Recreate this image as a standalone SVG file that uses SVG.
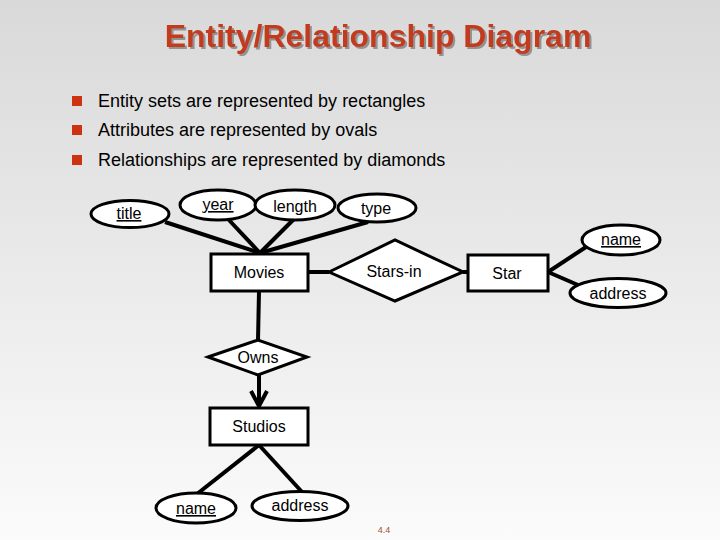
<svg xmlns="http://www.w3.org/2000/svg" width="720" height="540" viewBox="0 0 720 540">
<defs>
<linearGradient id="bg" x1="0" y1="0" x2="0" y2="1">
<stop offset="0" stop-color="#d9d9d9"/>
<stop offset="1" stop-color="#fbfbfb"/>
</linearGradient>
<filter id="shadow" x="-5%" y="-20%" width="110%" height="150%">
<feDropShadow dx="2" dy="2" stdDeviation="0.6" flood-color="#8a8a8a" flood-opacity="0.9"/>
</filter>
</defs>
<style>
.t{font-family:"Liberation Sans",Arial,sans-serif;font-size:16px;fill:#000;text-anchor:middle}
.b{font-family:"Liberation Sans",Arial,sans-serif;font-size:18px;fill:#000}
.k{text-decoration:underline}
.sh{fill:#fff;stroke:#000;stroke-width:3}
.c{stroke:#000;stroke-width:4;fill:none}
.bul{fill:#cc3311}
</style>
<rect width="720" height="540" fill="url(#bg)"/>
<g id="heading">
<text x="378" y="47" text-anchor="middle" font-family="Liberation Sans,Arial,sans-serif" font-weight="bold" font-size="32" fill="#c23a1c" filter="url(#shadow)">Entity/Relationship Diagram</text>
</g>
<g id="bullets">
<rect class="bul" x="72" y="96" width="10" height="10"/>
<text class="b" x="98" y="107">Entity sets are represented by rectangles</text>
<rect class="bul" x="72" y="125" width="10" height="10"/>
<text class="b" x="98" y="136">Attributes are represented by ovals</text>
<rect class="bul" x="72" y="155" width="10" height="10"/>
<text class="b" x="98" y="166">Relationships are represented by diamonds</text>
</g>
<g id="connectors">
<line class="c" x1="165" y1="222" x2="260" y2="253"/>
<line class="c" x1="228" y1="219" x2="260" y2="253"/>
<line class="c" x1="294" y1="219" x2="260" y2="253"/>
<line class="c" x1="368" y1="222" x2="260" y2="253"/>
<line class="c" x1="308" y1="272" x2="329" y2="272"/>
<line class="c" x1="463" y1="272" x2="468" y2="272"/>
<line class="c" x1="548" y1="272" x2="586" y2="247"/>
<line class="c" x1="548" y1="272" x2="578" y2="285"/>
<line class="c" x1="259" y1="291" x2="258" y2="340"/>
<line class="c" x1="259" y1="375" x2="259" y2="406"/>
<path class="c" d="M251,391 L259,406 L267,391"/>
<line class="c" x1="259" y1="445" x2="197" y2="494"/>
<line class="c" x1="259" y1="445" x2="302" y2="492"/>
</g>
<g id="title"><ellipse class="sh" cx="130" cy="214" rx="39" ry="13.5"/><text class="t k" x="129" y="219">title</text></g>
<g id="year"><ellipse class="sh" cx="218" cy="205" rx="38" ry="15"/><text class="t k" x="218" y="210">year</text></g>
<g id="length"><ellipse class="sh" cx="295" cy="205" rx="40" ry="15"/><text class="t" x="295" y="212">length</text></g>
<g id="type"><ellipse class="sh" cx="377" cy="208" rx="39" ry="14"/><text class="t" x="376" y="214">type</text></g>
<g id="Movies"><rect class="sh" x="211" y="254" width="97" height="37"/><text class="t" x="259" y="278">Movies</text></g>
<g id="Stars-in"><polygon class="sh" points="329,272 395,240 463,272 395,301"/><text class="t" x="394" y="277">Stars-in</text></g>
<g id="Star"><rect class="sh" x="468" y="255" width="80" height="36"/><text class="t" x="507" y="279">Star</text></g>
<g id="star-name"><ellipse class="sh" cx="621" cy="240" rx="39" ry="15"/><text class="t k" x="621" y="245">name</text></g>
<g id="star-address"><ellipse class="sh" cx="618" cy="293" rx="48" ry="14.5"/><text class="t" x="618" y="299">address</text></g>
<g id="Owns"><polygon class="sh" points="208,357 258,340 307,357 258,375"/><text class="t" x="258" y="363">Owns</text></g>
<g id="Studios"><rect class="sh" x="210" y="408" width="98" height="37"/><text class="t" x="259" y="432">Studios</text></g>
<g id="studio-name"><ellipse class="sh" cx="196" cy="508" rx="40" ry="15"/><text class="t k" x="196" y="514">name</text></g>
<g id="studio-address"><ellipse class="sh" cx="300" cy="506" rx="48" ry="14.5"/><text class="t" x="300" y="511">address</text></g>
<text x="384" y="533" text-anchor="middle" font-family="Liberation Sans,Arial,sans-serif" font-size="9" fill="#a0522d">4.4</text>
</svg>
